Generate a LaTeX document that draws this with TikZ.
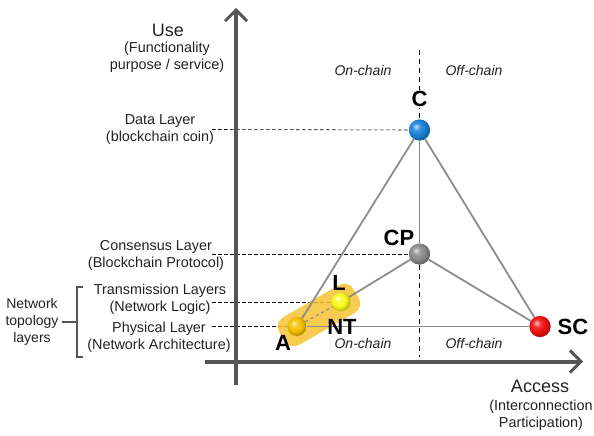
\documentclass[tikz,border=0pt]{standalone}
\usepackage{fontspec}
\setmainfont{Liberation Sans}
\usetikzlibrary{arrows.meta}
\definecolor{axisgrey}{HTML}{555555}
\definecolor{linegrey}{HTML}{8C8C8C}
\definecolor{blobcol}{HTML}{F7C232}
\definecolor{cblue}{HTML}{1A80D8}
\definecolor{scred}{HTML}{F01010}
\definecolor{agold}{HTML}{F5C000}
\definecolor{lyellow}{HTML}{F8F820}
\definecolor{cpgrey}{HTML}{8A8A8A}
\definecolor{txt}{HTML}{222222}
\makeatletter
\pgfdeclareradialshading[tikz@ball]{brightball}{\pgfqpoint{-9bp}{9bp}}{%
 color(0bp)=(tikz@ball!25!white);
 color(9bp)=(tikz@ball!85!white);
 color(18bp)=(tikz@ball);
 color(25bp)=(tikz@ball!80!black);
 color(50bp)=(tikz@ball!55!black)}
\makeatother
\begin{document}
\begin{tikzpicture}[x=1pt,y=-1pt,
  axis/.style={draw=axisgrey,line width=4pt,-{Straight Barb[length=11pt,width=22pt,line width=3pt]}},
  tri/.style={draw=linegrey,line width=1.8pt},
  guide/.style={draw=black,line width=0.6pt,dash pattern=on 3.5pt off 2.5pt},
  vguide/.style={draw=black,line width=0.9pt,dash pattern=on 5pt off 4pt},
  ball/.style 2 args={circle,minimum size=#1,inner sep=0pt,ball color=#2,shading=brightball},
  layer/.style={align=center,text=txt,font=\fontsize{14.4}{17}\selectfont},
  chain/.style={text=txt,font=\fontsize{14}{16}\selectfont\itshape},
  big/.style={text=txt,font=\fontsize{18}{20}\selectfont},
  letter/.style={text=black,font=\fontsize{22}{24}\selectfont\bfseries,inner sep=1pt},
  blob/.style={rounded corners=11pt,fill=blobcol,opacity=0.85,minimum width=86pt,minimum height=32pt}
]
\useasboundingbox (0,0) rectangle (594,436);

% guide coordinates
\coordinate (gd) at (212,129.5);
\coordinate (gc) at (212,254);
\coordinate (gt) at (212,302);
\coordinate (gp) at (212,326.5);
\coordinate (vtop) at (419.5,50);
\coordinate (vbot) at (419.5,357);

% balls (positions)
\node[ball={21pt}{cblue}] (C) at (419.5,130) {};
\node[ball={21pt}{cpgrey}] (CP) at (419.5,254) {};
\node[ball={21pt}{scred}] (SC) at (540,326.5) {};
\node[ball={19pt}{agold}] (A) at (297,326.5) {};
\node[ball={19pt}{lyellow}] (L) at (341,302) {};

% dashed guides
\draw[guide] (gd) -- (C);
\draw[guide] (gc) -- (CP);
\draw[guide] (gt) -- (L);
\draw[guide] (gp) -- (A);
\draw[vguide] (vtop) -- (C);
\draw[vguide] (CP) -- (vbot);

% highlight
\node[blob,rotate=30] (hl) at (319,315) {};

% axes
\coordinate (yb) at (236,385);
\coordinate (yt) at (236,8);
\coordinate (xl) at (205,361.5);
\coordinate (xr) at (583,361.5);
\draw[axis] (yb) -- (yt);
\draw[axis] (xl) -- (xr);

% triangle
\draw[tri] (C) -- (A);
\draw[tri] (C) -- (CP);
\draw[tri] (C) -- (SC);
\draw[tri] (CP) -- (SC);
\draw[tri] (CP) -- (L);
\draw[tri] (A) -- (SC);
\draw[draw=linegrey,line width=1.2pt,dashed] (A) -- (L);

% balls on top
\node[ball={21pt}{cblue}] (C2) at (C) {};
\node[ball={21pt}{cpgrey}] (CP2) at (CP) {};
\node[ball={21pt}{scred}] (SC2) at (SC) {};
\node[ball={19pt}{agold}] (A2) at (A) {};
\node[ball={19pt}{lyellow}] (L2) at (L) {};

% letters
\node[letter,fill=white] (lC) at (419.5,99) {C};
\node[letter] (lCP) at (399,238) {CP};
\node[letter] (lL) at (339,283) {L};
\node[letter] (lNT) at (342,327) {NT};
\node[letter] (lA) at (283,343) {A};
\node[letter] (lSC) at (573,326.5) {SC};

% axis labels
\node[big] (use) at (168,30) {Use};
\node[layer] (usesub) at (167,57.5) {(Functionality\\purpose / service)};
\node[big] (acc) at (540,386) {Access};
\node[layer] (accsub) at (541,415) {(Interconnection\\Participation)};

% layer labels
\node[layer] (ld) at (160,129.5) {Data Layer\\(blockchain coin)};
\node[layer] (lc) at (156,255) {Consensus Layer\\(Blockchain Protocol)};
\node[layer] (lt) at (160,299.5) {Transmission Layers\\(Network Logic)};
\node[layer] (lp) at (159,337) {Physical Layer\\(Network Architecture)};

% bracket
\coordinate (b1) at (83,287);
\coordinate (b2) at (77,287);
\coordinate (b3) at (77,357);
\coordinate (b4) at (83,357);
\coordinate (bm) at (77,322);
\node[layer,font=\fontsize{14}{17}\selectfont] (ntl) at (32,322) {Network\\topology\\layers};
\draw[draw=axisgrey,line width=1.2pt] (b1) -- (b2) -- (b3) -- (b4);
\draw[draw=axisgrey,line width=1.2pt] (ntl.east) -- (bm);

% chain labels
\node[chain] (on1) at (363,70) {On-chain};
\node[chain] (off1) at (474,70) {Off-chain};
\node[chain] (on2) at (363,343) {On-chain};
\node[chain] (off2) at (474,343) {Off-chain};
\end{tikzpicture}
\end{document}
